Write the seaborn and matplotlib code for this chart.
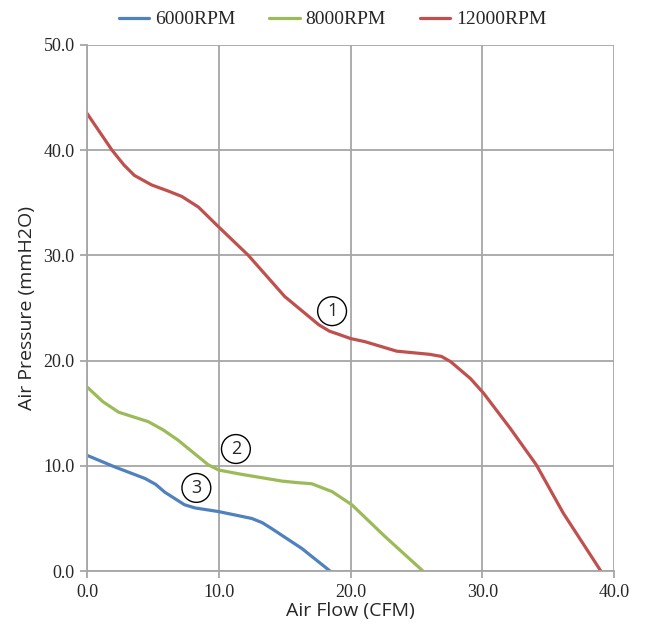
import numpy as np
import pandas as pd
import matplotlib
matplotlib.use('Agg')
import matplotlib.pyplot as plt
import seaborn as sns

# valores (CFM, mmH2O)
flow_6000 = [0.0, 2.1, 4.4, 5.2, 5.9, 7.4, 8.2, 10.0, 12.5, 13.3, 14.0, 16.3, 18.45]
pres_6000 = [11.0, 9.9, 8.8, 8.25, 7.5, 6.3, 6.0, 5.65, 5.0, 4.6, 4.05, 2.15, 0.0]

flow_8000 = [0.0, 1.2, 2.4, 4.65, 5.8, 6.9, 9.2, 10.0, 11.7, 14.8, 16.0, 17.05, 18.6, 20.1, 22.6, 25.5]
pres_8000 = [17.5, 16.1, 15.1, 14.2, 13.4, 12.45, 10.1, 9.6, 9.2, 8.55, 8.4, 8.3, 7.55, 6.3, 3.3, 0.0]

flow_12000 = [0.0, 1.9, 2.8, 3.6, 4.9, 6.2, 7.2, 8.45, 10.0, 12.25, 15.0, 17.6, 18.4, 19.1, 20.0, 21.1,
              23.5, 26.0, 26.9, 27.6, 29.1, 30.1, 32.1, 34.1, 36.15, 39.0]
pres_12000 = [43.5, 40.0, 38.6, 37.6, 36.7, 36.1, 35.6, 34.6, 32.7, 30.0, 26.1, 23.4, 22.8, 22.5, 22.1, 21.8,
              20.9, 20.6, 20.4, 19.9, 18.3, 16.9, 13.6, 10.1, 5.5, 0.0]

series_names = ['6000RPM', '8000RPM', '12000RPM']
series_colors = ['#4F81BD', '#9BBB59', '#C0504D']

# marcadores circulados (texto, x, y)
mark_text = ['1', '2', '3']
mark_x = [18.6, 11.3, 8.3]
mark_y = [24.7, 11.6, 7.9]

df = pd.concat([
    pd.DataFrame({'flow': flow_6000, 'pressure': pres_6000, 'rpm': '6000RPM'}),
    pd.DataFrame({'flow': flow_8000, 'pressure': pres_8000, 'rpm': '8000RPM'}),
    pd.DataFrame({'flow': flow_12000, 'pressure': pres_12000, 'rpm': '12000RPM'}),
])

sns.set_style('white')
grid_col = '#A6A6A6'

fig = plt.figure(figsize=(6.45, 6.31), dpi=100)
ax = fig.add_axes([0.1349, 0.095, 0.8171, 0.8337])

sns.lineplot(data=df, x='flow', y='pressure', hue='rpm', hue_order=series_names,
             palette=series_colors, sort=False, estimator=None, linewidth=2.3, ax=ax)
for ln in ax.lines:
    ln.set_solid_joinstyle('round')

ax.set_xlim(0, 40)
ax.set_ylim(0, 50)
ax.set_xticks(np.arange(0, 41, 10))
ax.set_yticks(np.arange(0, 51, 10))
ax.set_xticklabels([f'{v:.1f}' for v in np.arange(0, 41, 10)])
ax.set_yticklabels([f'{v:.1f}' for v in np.arange(0, 51, 10)])
for lab in ax.get_xticklabels() + ax.get_yticklabels():
    lab.set_family('Liberation Serif')
    lab.set_fontsize(13)
    lab.set_color('#262626')

ax.grid(True, color=grid_col, linewidth=1.3)
for s in ['top', 'right']:
    ax.spines[s].set_visible(False)
for s in ['left', 'bottom']:
    ax.spines[s].set_color(grid_col)
    ax.spines[s].set_linewidth(1.3)
ax.tick_params(axis='both', direction='out', length=5, width=1.3, color=grid_col,
               left=True, bottom=True, pad=4)

ax.set_xlabel('Air Flow (CFM)', family='Open Sans', fontsize=14, labelpad=1)
ax.set_ylabel('Air Pressure (mmH2O)', family='Open Sans', fontsize=14, labelpad=5)

for t, x, y in zip(mark_text, mark_x, mark_y):
    ax.text(x, y, t, family='Open Sans', fontsize=13, ha='center', va='center',
            bbox=dict(boxstyle='circle,pad=0.3', fc='white', ec='black', lw=1.0))

ax.legend(loc='lower center', bbox_to_anchor=(0.466, 1.0), ncol=3, frameon=False,
          prop={'family': 'Liberation Serif', 'size': 14}, handlelength=1.55,
          columnspacing=1.75, handletextpad=0.3, borderaxespad=0.45)

fig.savefig('out.png', dpi=100)
